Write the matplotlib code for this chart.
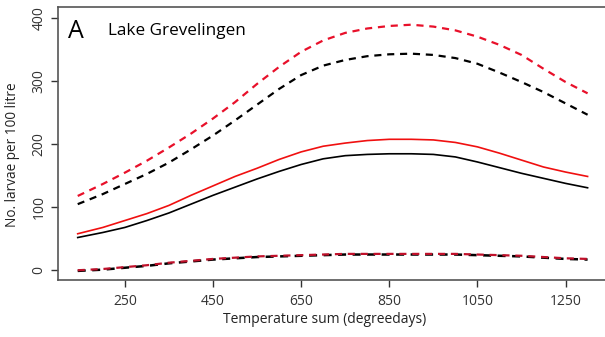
import matplotlib
matplotlib.use("Agg")
import matplotlib.pyplot as plt

# temperature sum (degreedays) at which each curve is evaluated
tsum = [143, 200, 250, 300, 350, 400, 450, 500, 550, 600, 650, 700,
        750, 800, 850, 900, 950, 1000, 1050, 1100, 1150, 1200, 1250, 1300]

# fitted larvae density (No. per 100 litre) with upper / lower bounds
red_fit = [57, 67, 78, 89, 102, 118, 133, 148, 161, 175, 187, 196,
           201, 205, 207, 207, 206, 202, 195, 185, 174, 163, 155, 148]
red_upper = [117, 136, 154, 173, 194, 216, 240, 266, 295, 322, 346, 364,
             376, 383, 387, 389, 386, 380, 370, 357, 341, 319, 298, 280]
red_lower = [-1, 1, 4, 7, 11, 14, 17, 19, 21, 22, 23, 24,
             25, 25, 25, 25, 25, 25, 24, 23, 22, 20, 18, 17]

black_fit = [51, 59, 67, 78, 90, 104, 118, 131, 144, 156, 167, 176,
             181, 183, 184, 184, 183, 179, 171, 162, 153, 145, 137, 130]
black_upper = [104, 120, 136, 152, 170, 191, 213, 237, 262, 287, 309, 324,
               333, 339, 342, 343, 341, 336, 327, 313, 298, 282, 264, 246]
black_lower = [-2, 0, 3, 6, 10, 13, 16, 18, 20, 21, 22, 23,
               24, 24, 24, 24, 24, 24, 23, 22, 21, 19, 17, 16]

xticks = [250, 450, 650, 850, 1050, 1250]
yticks = [0, 100, 200, 300, 400]

plt.rcParams['font.family'] = ['Open Sans', 'DejaVu Sans']

fig = plt.figure(figsize=(6.05, 3.37), dpi=100)
ax = fig.add_axes([0.0964, 0.170, 0.928, 0.809])

dash = (0, (3.2, 2.6))
ax.plot(tsum, black_upper, color='black', lw=1.6, ls=dash)
ax.plot(tsum, red_upper, color='#e8102a', lw=1.6, ls=dash)
ax.plot(tsum, black_lower, color='black', lw=1.8, ls=dash)
ax.plot(tsum, red_lower, color='#c0102a', lw=1.6, ls=dash)
ax.plot(tsum, black_fit, color='black', lw=1.2)
ax.plot(tsum, red_fit, color='#f01010', lw=1.2)

ax.set_xlim(99, 1373)
ax.set_ylim(-16, 417)
ax.set_xticks(xticks)
ax.set_yticks(yticks)
ax.tick_params(axis='both', direction='out', length=5, width=1.0,
               colors='#333333', labelsize=10)
ax.tick_params(axis='x', pad=5)
for lab in ax.get_yticklabels():
    lab.set_rotation(90)
    lab.set_va('center')

for side in ['left', 'bottom', 'top']:
    ax.spines[side].set_color('#555555')
    ax.spines[side].set_linewidth(1.2)
ax.spines['right'].set_visible(False)

ax.set_xlabel('Temperature sum (degreedays)', fontsize=10, color='#222222')
ax.xaxis.set_label_coords(0.475, -0.12)
ax.set_ylabel('No. larvae per 100 litre', fontsize=9.8, color='#222222')
ax.yaxis.set_label_coords(-0.068, 0.458)

ax.text(0.018, 0.955, 'A', transform=ax.transAxes, fontsize=18, va='top', ha='left')
ax.text(0.088, 0.94, 'Lake Grevelingen', transform=ax.transAxes, fontsize=12.3,
        va='top', ha='left')

fig.savefig('out.png', dpi=100)
